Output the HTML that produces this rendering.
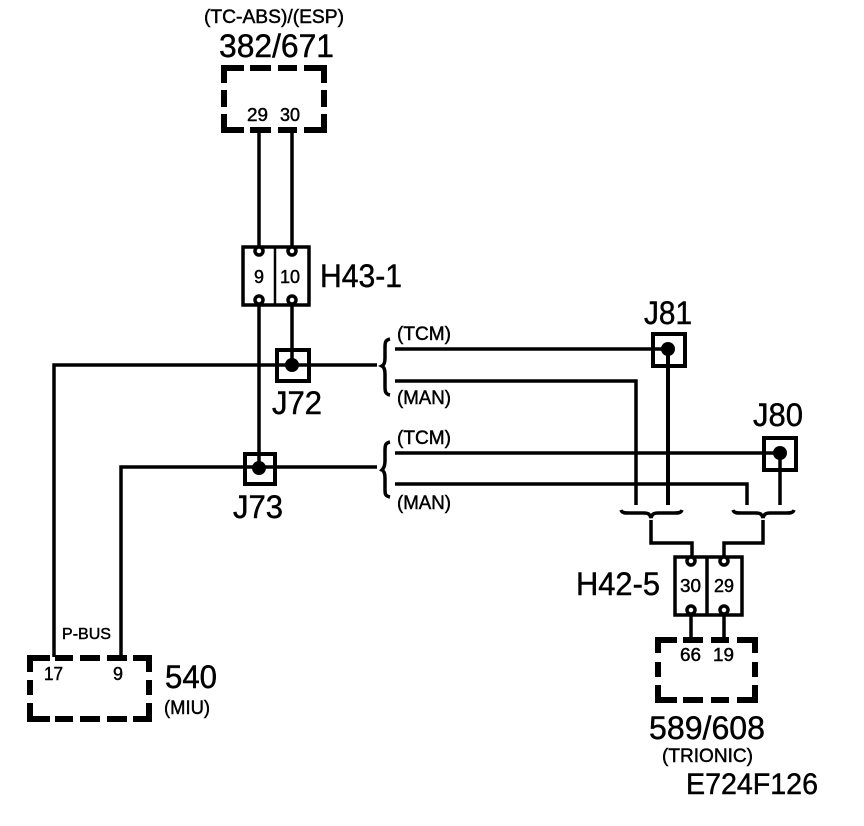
<!DOCTYPE html>
<html><head><meta charset="utf-8"><style>
html,body{margin:0;padding:0;background:#fff;width:864px;height:826px;overflow:hidden}
svg{display:block}
text{font-family:"Liberation Sans",sans-serif;fill:#000;stroke:#000;stroke-width:.45}
.w{fill:none;stroke:#000;stroke-width:3.5}
.c{fill:#fff;stroke:#000;stroke-width:3.5}
.b{fill:none;stroke:#000;stroke-width:3.5}
.j{fill:none;stroke:#000;stroke-width:4}
.d{fill:none;stroke:#000;stroke-width:6}
</style></head><body>
<svg width="864" height="826" viewBox="0 0 864 826" xmlns="http://www.w3.org/2000/svg">
<rect width="864" height="826" fill="#fff"/>

<!-- wires -->
<path class="w" d="M259 132V246M292 132V246M259 304V468M292 304V365"/>
<path class="w" d="M377 365H54V657"/>
<path class="w" d="M377 467H121V657"/>
<path class="w" d="M395 349H668M395 381H636V505"/>
<path class="w" d="M395 453H780M395 484H747V505"/>
<path class="w" d="M668 349V505" style="stroke-width:4"/>
<path class="w" d="M780 453V505"/>
<path class="w" d="M651 520V543H692V557M763 520V543H724V557"/>
<path class="w" d="M691 614V638M724 614V638"/>

<!-- braces -->
<path class="b" d="M390 339C385 340 385 343 385 348V358C385 362 384 365 382 366C384 367 385 370 385 374V386C385 391 385 394 390 395"/>
<path class="b" d="M390 442C385 443 385 446 385 451V461C385 465 384 468 382 470C384 471 385 474 385 478V489C385 494 385 496 390 497"/>
<path class="b" d="M621 510C622 513 625 513 629 513H644C648 513 650 514 651 518C652 514 654 513 658 513H674C678 513 681 513 682 510"/>
<path class="b" d="M733 510C734 513 737 513 741 513H756C760 513 762 514 763 518C764 514 766 513 770 513H786C790 513 793 513 794 510"/>

<!-- connector H43-1 -->
<rect class="b" x="243" y="247" width="66" height="58"/>
<path class="b" d="M275 247V305" style="stroke-width:2.5"/>
<circle class="c" cx="259" cy="251" r="4"/><circle class="c" cx="292" cy="251" r="4"/>
<circle class="c" cx="259" cy="300" r="4"/><circle class="c" cx="292" cy="300" r="4"/>

<!-- connector H42-5 -->
<rect class="b" x="675" y="557" width="67" height="58"/>
<path class="b" d="M707 557V615"/>
<circle class="c" cx="691" cy="561" r="4"/><circle class="c" cx="724" cy="561" r="4"/>
<circle class="c" cx="691" cy="610" r="4"/><circle class="c" cx="724" cy="610" r="4"/>

<!-- junctions -->
<rect class="j" x="277" y="350" width="32" height="31"/><circle cx="292" cy="365" r="7"/>
<rect class="j" x="245" y="454" width="30" height="30"/><circle cx="259" cy="468" r="7"/>
<rect class="j" x="653" y="334" width="32" height="32"/><circle cx="668" cy="349" r="7"/>
<rect class="j" x="764" y="438" width="32" height="32"/><circle cx="780" cy="453" r="7"/>

<!-- dashed boxes -->
<path class="d" d="M244 68H224V83M224 90V107M224 114V130H244M250 68H271M278 68H297M304 68H324V83M324 90V107M324 114V130H304M250 130H271M278 130H297"/>
<path class="d" d="M677 640H658V653M658 662V677M658 685V700H677M683 640H703M711 640H729M737 640H755V653M755 662V677M755 685V700H737M683 700H703M711 700H729"/>
<path class="d" d="M50 658H30V672M30 680V695M30 703V719H50M55 658H73M80 658H100M107 658H127M133 658H149V672M149 680V695M149 703V719H133M55 719H73M80 719H100M107 719H127"/>

<!-- text -->
<text x="204" y="23" font-size="19" textLength="140" lengthAdjust="spacingAndGlyphs">(TC-ABS)/(ESP)</text>
<text x="219" y="57" font-size="32" textLength="115" lengthAdjust="spacingAndGlyphs">382/671</text>
<text x="247" y="121" font-size="18" textLength="21" lengthAdjust="spacingAndGlyphs">29</text>
<text x="280" y="121" font-size="18" textLength="20" lengthAdjust="spacingAndGlyphs">30</text>
<text x="320" y="287" font-size="32" textLength="82" lengthAdjust="spacingAndGlyphs">H43-1</text>
<text x="254" y="283" font-size="18" textLength="10" lengthAdjust="spacingAndGlyphs">9</text>
<text x="280" y="283" font-size="18" textLength="20" lengthAdjust="spacingAndGlyphs">10</text>
<text x="272" y="414" font-size="32" textLength="50" lengthAdjust="spacingAndGlyphs">J72</text>
<text x="233" y="518" font-size="32" textLength="50" lengthAdjust="spacingAndGlyphs">J73</text>
<text x="644" y="324" font-size="32" textLength="48" lengthAdjust="spacingAndGlyphs">J81</text>
<text x="753" y="426" font-size="32" textLength="50" lengthAdjust="spacingAndGlyphs">J80</text>
<text x="397" y="340" font-size="19" textLength="54" lengthAdjust="spacingAndGlyphs">(TCM)</text>
<text x="397" y="404" font-size="19" textLength="54" lengthAdjust="spacingAndGlyphs">(MAN)</text>
<text x="397" y="444" font-size="19" textLength="54" lengthAdjust="spacingAndGlyphs">(TCM)</text>
<text x="397" y="509" font-size="19" textLength="54" lengthAdjust="spacingAndGlyphs">(MAN)</text>
<text x="576" y="595" font-size="32" textLength="84" lengthAdjust="spacingAndGlyphs">H42-5</text>
<text x="680" y="592" font-size="18" textLength="21" lengthAdjust="spacingAndGlyphs">30</text>
<text x="714" y="592" font-size="18" textLength="20" lengthAdjust="spacingAndGlyphs">29</text>
<text x="680" y="661" font-size="18" textLength="21" lengthAdjust="spacingAndGlyphs">66</text>
<text x="713" y="661" font-size="18" textLength="21" lengthAdjust="spacingAndGlyphs">19</text>
<text x="649" y="739" font-size="32" textLength="116" lengthAdjust="spacingAndGlyphs">589/608</text>
<text x="662" y="762" font-size="19" textLength="91" lengthAdjust="spacingAndGlyphs">(TRIONIC)</text>
<text x="686" y="794" font-size="30" textLength="132" lengthAdjust="spacingAndGlyphs">E724F126</text>
<text x="62" y="639" font-size="16" textLength="49" lengthAdjust="spacingAndGlyphs">P-BUS</text>
<text x="44" y="680" font-size="18" textLength="19" lengthAdjust="spacingAndGlyphs">17</text>
<text x="113" y="680" font-size="18" textLength="10" lengthAdjust="spacingAndGlyphs">9</text>
<text x="165" y="688" font-size="32" textLength="52" lengthAdjust="spacingAndGlyphs">540</text>
<text x="164" y="714" font-size="19" textLength="46" lengthAdjust="spacingAndGlyphs">(MIU)</text>
</svg>
</body></html>
